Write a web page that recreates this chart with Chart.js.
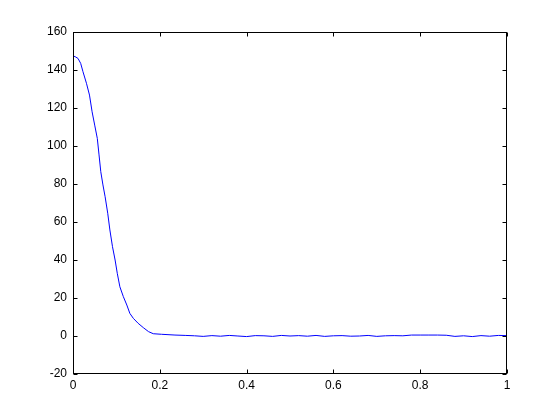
<!DOCTYPE html>
<html>
<head>
<meta charset="utf-8">
<script src="https://cdn.jsdelivr.net/npm/chart.js@4"></script>
<style>
  html, body { margin: 0; padding: 0; background: #fff; }
  canvas { display: block; }
</style>
</head>
<body>
<canvas id="chart1" width="560" height="420"></canvas>
<script>
// data
var xVals = [0, 0.005, 0.0115, 0.0177, 0.023, 0.031, 0.038, 0.044, 0.050, 0.056,
    0.060, 0.064, 0.069, 0.074, 0.080, 0.085, 0.091, 0.097, 0.102, 0.108,
    0.116, 0.124, 0.131, 0.139, 0.150, 0.162, 0.174, 0.185, 0.204, 0.235,
    0.26, 0.28, 0.30, 0.32, 0.34, 0.36, 0.38, 0.40, 0.42, 0.44,
    0.46, 0.48, 0.50, 0.52, 0.54, 0.56, 0.58, 0.60, 0.62, 0.64,
    0.66, 0.68, 0.70, 0.72, 0.74, 0.76, 0.78, 0.80, 0.82, 0.84,
    0.86, 0.88, 0.90, 0.92, 0.94, 0.96, 0.98, 1.00];
var yVals = [147.4, 147.0, 146.1, 143.5, 139.1, 133, 126.8, 118, 111, 104,
    95.3, 86.5, 79.5, 73.3, 64.6, 55.8, 47, 40, 33, 25.9,
    20.7, 16.3, 11.9, 9.3, 6.7, 4.4, 2.3, 1.2, 0.9, 0.5,
    0.3, 0.1, -0.2, 0.2, -0.1, 0.3, 0.0, -0.3, 0.2, 0.1,
    -0.2, 0.3, 0.0, 0.2, -0.1, 0.3, -0.2, 0.1, 0.2, -0.1,
    0.0, 0.3, -0.2, 0.1, 0.2, 0.1, 0.5, 0.5, 0.5, 0.5,
    0.4, -0.2, 0.1, -0.3, 0.2, -0.1, 0.3, 0.2];
var xTicks = [0, 0.2, 0.4, 0.6, 0.8, 1];
var yTicks = [-20, 0, 20, 40, 60, 80, 100, 120, 140, 160];

var points = xVals.map(function (x, i) { return { x: x, y: yVals[i] }; });

// matlab style box with inward ticks
var boxTicks = {
    id: 'boxTicks',
    afterDraw: function (chart) {
        var ctx = chart.ctx, a = chart.chartArea;
        var sx = chart.scales.x, sy = chart.scales.y;
        var L = Math.round(a.left) + 0.5, R = Math.round(a.right) - 0.5;
        var T = Math.round(a.top) + 0.5, B = Math.round(a.bottom) - 0.5;
        ctx.save();
        ctx.strokeStyle = '#000';
        ctx.lineWidth = 1;
        ctx.strokeRect(L, T, R - L, B - T);
        ctx.beginPath();
        xTicks.forEach(function (v) {
            var px = Math.round(sx.getPixelForValue(v)) + 0.5;
            ctx.moveTo(px, B); ctx.lineTo(px, B - 4);
            ctx.moveTo(px, T); ctx.lineTo(px, T + 4);
        });
        yTicks.forEach(function (v) {
            var py = Math.round(sy.getPixelForValue(v)) + 0.5;
            ctx.moveTo(L, py); ctx.lineTo(L + 4, py);
            ctx.moveTo(R, py); ctx.lineTo(R - 4, py);
        });
        ctx.stroke();
        ctx.restore();
    }
};

Chart.defaults.font.family = '"Liberation Sans", Arial, sans-serif';
Chart.defaults.font.size = 12;
Chart.defaults.color = '#000';

var chart1 = document.getElementById('chart1').getContext('2d');
var myChart = new Chart(chart1, {
    type: 'line',
    data: {
        datasets: [{
            data: points,
            borderColor: '#0000ff',
            borderWidth: 1,
            pointRadius: 0,
            tension: 0,
            fill: false
        }]
    },
    options: {
        responsive: false,
        animation: false,
        layout: { padding: { top: 32, right: 53, left: 0, bottom: 0 } },
        plugins: { legend: { display: false }, tooltip: { enabled: false } },
        scales: {
            x: {
                type: 'linear',
                min: 0, max: 1,
                grid: { display: false, drawTicks: false },
                border: { display: false },
                ticks: { padding: 4, maxRotation: 0, autoSkip: false, callback: function (v) { return String(v); } },
                afterBuildTicks: function (s) { s.ticks = xTicks.map(function (v) { return { value: v }; }); },
                afterFit: function (s) { s.height = 46; }
            },
            y: {
                min: -20, max: 160,
                grid: { display: false, drawTicks: false },
                border: { display: false },
                ticks: { padding: 6, autoSkip: false },
                afterBuildTicks: function (s) { s.ticks = yTicks.map(function (v) { return { value: v }; }); },
                afterFit: function (s) { s.width = 73; }
            }
        }
    },
    plugins: [boxTicks]
});
</script>
</body>
</html>
